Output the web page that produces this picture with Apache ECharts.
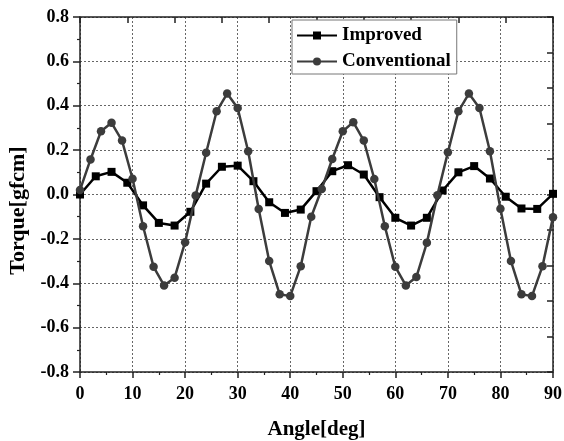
<!DOCTYPE html>
<html>
<head>
<meta charset="utf-8">
<script src="https://cdn.jsdelivr.net/npm/echarts@6/dist/echarts.min.js"></script>
<style>
html,body{margin:0;padding:0;background:#fff;}
#chart{width:564px;height:441px;}
</style>
</head>
<body>
<div id="chart"></div>
<script>
// Data
var improvedAngles = [0,3,6,9,12,15,18,21,24,27,30,33,36,39,42,45,48,51,54,57,60,63,66,69,72,75,78,81,84,87,90];
var improvedTorque = [0.0,0.082,0.102,0.053,-0.049,-0.128,-0.14,-0.078,0.049,0.125,0.13,0.06,-0.035,-0.083,-0.068,0.015,0.105,0.132,0.09,-0.012,-0.105,-0.14,-0.105,0.018,0.1,0.128,0.072,-0.01,-0.063,-0.065,0.003];
var conventionalAngles = [0,2,4,6,8,10,12,14,16,18,20,22,24,26,28,30,32,34,36,38,40,42,44,46,48,50,52,54,56,58,60,62,64,66,68,70,72,74,76,78,80,82,84,86,88,90];
var conventionalTorque = [0.02,0.158,0.285,0.323,0.243,0.071,-0.143,-0.326,-0.41,-0.375,-0.215,-0.005,0.188,0.375,0.455,0.39,0.195,-0.065,-0.3,-0.45,-0.458,-0.323,-0.1,0.025,0.16,0.285,0.326,0.243,0.07,-0.143,-0.326,-0.41,-0.372,-0.218,-0.003,0.19,0.375,0.455,0.39,0.195,-0.064,-0.3,-0.45,-0.458,-0.323,-0.102];
var seriesNames = ['Improved','Conventional'];
var xTitle = 'Angle[deg]';
var yTitle = 'Torque[gfcm]';

function pairs(xs, ys){ return xs.map(function(x,i){ return [x, ys[i]]; }); }

var FONT = 'Liberation Serif';
var axisColor = '#222';
var chart = echarts.init(document.getElementById('chart'), null, {renderer:'canvas'});
chart.setOption({
  backgroundColor:'#fff',
  animation:false,
  grid:{left:80, right:11, top:17, bottom:69, containLabel:false, outerBoundsMode:'none'},
  legend:{
    left:292, top:20, orient:'vertical',
    data:seriesNames,
    itemWidth:40, itemHeight:10, itemGap:7,
    padding:[6,6,3,4],
    backgroundColor:'#fff', borderColor:'#777', borderWidth:1,
    textStyle:{fontFamily:FONT, fontWeight:'bold', fontSize:19, color:'#000'}
  },
  xAxis:[{
    type:'value', min:0, max:90, interval:10, position:'bottom',
    name:xTitle, nameLocation:'middle', nameGap:47,
    nameTextStyle:{fontFamily:FONT, fontWeight:'bold', fontSize:21, color:'#000'},
    axisLine:{show:true, onZero:false, lineStyle:{color:axisColor, width:1.5}},
    axisTick:{show:true, inside:false, length:6, lineStyle:{color:axisColor, width:1.5}},
    minorTick:{show:true, splitNumber:2, length:3, lineStyle:{color:axisColor, width:1.2}},
    axisLabel:{fontFamily:FONT, fontWeight:'bold', fontSize:18, color:'#000', margin:13},
    splitLine:{show:true, lineStyle:{color:'#666', width:1, type:[2,2]}}
  },{
    type:'value', min:0, max:90, interval:9, position:'top',
    axisLine:{show:true, onZero:false, lineStyle:{color:axisColor, width:1.5}},
    axisTick:{show:true, inside:true, length:6, lineStyle:{color:axisColor, width:1.5}},
    axisLabel:{show:false}, splitLine:{show:false}
  }],
  yAxis:[{
    type:'value', min:-0.8, max:0.8, interval:0.2, position:'left',
    name:yTitle, nameLocation:'middle', nameGap:50, nameRotate:90,
    nameTextStyle:{fontFamily:FONT, fontWeight:'bold', fontSize:22, color:'#000', padding:[0,32,0,0]},
    axisLine:{show:true, onZero:false, lineStyle:{color:axisColor, width:1.5}},
    axisTick:{show:true, inside:false, length:7, lineStyle:{color:axisColor, width:1.5}},
    minorTick:{show:true, splitNumber:2, length:3, lineStyle:{color:axisColor, width:1.2}},
    axisLabel:{fontFamily:FONT, fontWeight:'bold', fontSize:18, color:'#000', margin:11,
      formatter:function(v){ return Math.abs(v)<1e-9 ? '0.0' : v.toFixed(1); }},
    splitLine:{show:true, lineStyle:{color:'#666', width:1, type:[2,2]}}
  },{
    type:'value', min:-0.8, max:0.8, interval:0.16, position:'right',
    axisLine:{show:true, onZero:false, lineStyle:{color:axisColor, width:1.5}},
    axisTick:{show:true, inside:true, length:6, lineStyle:{color:axisColor, width:1.5}},
    axisLabel:{show:false}, splitLine:{show:false}
  }],
  series:[{
    name:seriesNames[0], type:'line', xAxisIndex:0, yAxisIndex:0,
    data:pairs(improvedAngles, improvedTorque),
    symbol:'rect', symbolSize:8, showAllSymbol:true,
    lineStyle:{color:'#000', width:2.5},
    itemStyle:{color:'#000', borderWidth:0},
    z:3
  },{
    name:seriesNames[1], type:'line', xAxisIndex:0, yAxisIndex:0,
    data:pairs(conventionalAngles, conventionalTorque),
    symbol:'circle', symbolSize:8.5, showAllSymbol:true,
    lineStyle:{color:'#3c3c3c', width:2.5},
    itemStyle:{color:'#3c3c3c', borderWidth:0},
    z:4
  }]
});
</script>
</body>
</html>
